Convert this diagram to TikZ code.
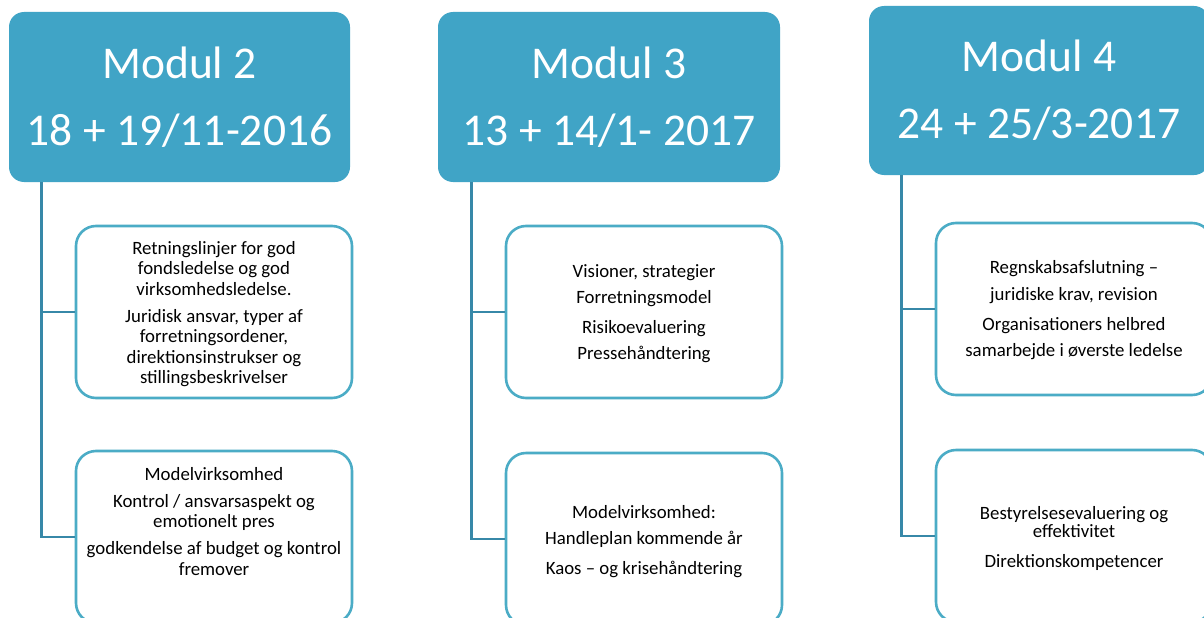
\documentclass[tikz,border=0pt]{standalone}
\usepackage{fontspec}
\setmainfont{Carlito}
\definecolor{hdrblue}{HTML}{40A4C6}
\definecolor{boxblue}{HTML}{4BACC6}
\definecolor{connblue}{HTML}{3788A8}
\tikzset{
  hdr/.style={fill=hdrblue, rounded corners=15pt, text=white, align=center, inner sep=0pt,
              font=\fontsize{45.5}{67}\selectfont},
  cbox/.style={draw=boxblue, line width=2.6pt, rounded corners=20pt, fill=white,
               minimum width=276pt, minimum height=172pt},
  txt/.style={align=center, inner sep=0pt, anchor=north, font=\fontsize{18.8}{20.5}\selectfont},
  conn/.style={draw=connblue, line width=2.8pt}
}
\newcommand{\fl}{\rule{0pt}{15pt}}
\begin{document}
\begin{tikzpicture}[x=1pt, y=-1pt]
\useasboundingbox (0,0) rectangle (1204,618);
\clip (0,0) rectangle (1204,618);
\fill[white] (0,0) rectangle (1204,618);

% headers
\node[hdr, minimum width=341pt, minimum height=170pt] (m2h) at (179.5,97) {Modul 2\\18 + 19/11-2016};
\node[hdr, minimum width=342pt, minimum height=170pt] (m3h) at (609,97) {Modul 3\\13 + 14/1- 2017};
\node[hdr, minimum width=340pt, minimum height=169pt] (m4h) at (1039,90.5) {Modul 4\\24 + 25/3-2017};

% child boxes
\node[cbox] (m2a) at (214,312) {};
\node[cbox] (m2b) at (214,537) {};
\node[cbox] (m3a) at (644,312) {};
\node[cbox] (m3b) at (644,539) {};
\node[cbox] (m4a) at (1074,309) {};
\node[cbox] (m4b) at (1074,536) {};

% texts
\node[txt] (m2at) at (214,239) {\fl Retningslinjer for god\\fondsledelse og god\\virksomhedsledelse.\\[6.5pt]Juridisk ansvar, typer af\\forretningsordener,\\direktionsinstrukser og\\stillingsbeskrivelser};
\node[txt] (m2bt) at (214,465) {\fl Modelvirksomhed\\[6.5pt]Kontrol / ansvarsaspekt og\\emotionelt pres\\[6.5pt]godkendelse af budget og kontrol\\fremover};
\node[txt] (m3at) at (644,262) {\fl Visioner, strategier\\[5.5pt]Forretningsmodel\\[9.5pt]Risikoevaluering\\[5.5pt]Pressehåndtering};
\node[txt] (m3bt) at (644,503) {\fl Modelvirksomhed:\\[5.5pt]Handleplan kommende år\\[9.5pt]Kaos – og krisehåndtering};
\node[txt] (m4at) at (1074,258) {\fl Regnskabsafslutning –\\[6.5pt]juridiske krav, revision\\[9.5pt]Organisationers helbred\\[5.5pt]samarbejde i øverste ledelse};
\node[txt] (m4bt) at (1074,504) {\fl Bestyrelsesevaluering og\\[-2.5pt]effektivitet\\[9.5pt]Direktionskompetencer};

% connectors
\coordinate (m2s) at ([xshift=33pt]m2h.south west);
\coordinate (m3s) at ([xshift=34pt]m3h.south west);
\coordinate (m4s) at ([xshift=33pt]m4h.south west);
\draw[conn] (m2s) |- (m2a.west);
\draw[conn] (m2s) |- (m2b.west);
\draw[conn] (m3s) |- (m3a.west);
\draw[conn] (m3s) |- (m3b.west);
\draw[conn] (m4s) |- (m4a.west);
\draw[conn] (m4s) |- (m4b.west);
\end{tikzpicture}
\end{document}
